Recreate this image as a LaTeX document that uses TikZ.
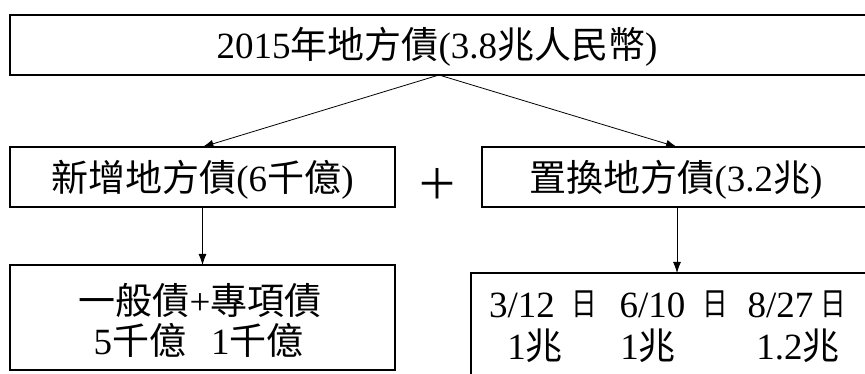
\documentclass[tikz,border=0pt]{standalone}
\usepackage{fontspec}
\setmainfont{Liberation Serif}
\newfontfamily\cjk{Noto Sans CJK TC}
\usetikzlibrary{arrows.meta}
\newcommand\C[1]{{\cjk #1}}
\begin{document}
\begin{tikzpicture}[x=1pt,y=-1pt,
  box/.style={draw, line width=1.2pt, inner sep=0pt, outer sep=0pt, anchor=north west},
  txt/.style={inner sep=0pt, anchor=base, font=\fontsize{37}{40}\selectfont},
  smallri/.style={inner sep=0pt, anchor=base, font=\fontsize{32}{34}\selectfont\cjk},
  arr/.style={line width=0.8pt, -{Latex[length=11pt,width=8pt]}}]
\useasboundingbox (0,0) rectangle (865,374);
\clip (0,0) rectangle (865,374);
% boxes
\node[box, minimum width=858pt, minimum height=60pt] (top) at (10,15) {};
\node[box, minimum width=385pt, minimum height=60pt] (ml) at (10,147) {};
\node[box, minimum width=390pt, minimum height=60pt] (mr) at (482,147) {};
\node[box, minimum width=385pt, minimum height=105pt] (bl) at (10,265) {};
\node[box, minimum width=400pt, minimum height=120pt] (br) at (471,273) {};
% texts
\node[txt] (ttop) at (437,59) {2015\C{年地方債}(3.8\C{兆人民幣})};
\node[txt] (tml) at (202.5,192) {\C{新增地方債}(6\C{千億})};
\node[txt] (tmr) at (676,192) {\C{置換地方債}(3.2\C{兆})};
\node[inner sep=0pt, font=\fontsize{42}{44}\selectfont\cjk] (plus) at (437,183.5) {＋};
\node[txt] (bl1) at (200,314) {\C{一般債}+\C{專項債}};
\node[txt] (bl2) at (198.5,354) {5\C{千億}\hspace{25pt}1\C{千億}};
\node[txt] (d1) at (522,317) {3/12};
\node[smallri] (r1) at (584.5,315) {\scalebox{0.8}[1]{日}};
\node[txt] (d2) at (652.5,317) {6/10};
\node[smallri] (r2) at (715,315) {\scalebox{0.8}[1]{日}};
\node[txt] (d3) at (780.5,317) {8/27};
\node[smallri] (r3) at (833,315) {\scalebox{0.8}[1]{日}};
\node[txt] (v1) at (535,359) {1\C{兆}};
\node[txt] (v2) at (648,359) {1\C{兆}};
\node[txt] (v3) at (798,359) {1.2\C{兆}};
% connectors
\draw[arr] (top.south) -- (ml.north);
\draw[arr] (top.south) -- (mr.north);
\draw[arr] (ml.south) -- (bl.north);
\draw[arr] (mr.south) -- (mr.south |- br.north);
\end{tikzpicture}
\end{document}
